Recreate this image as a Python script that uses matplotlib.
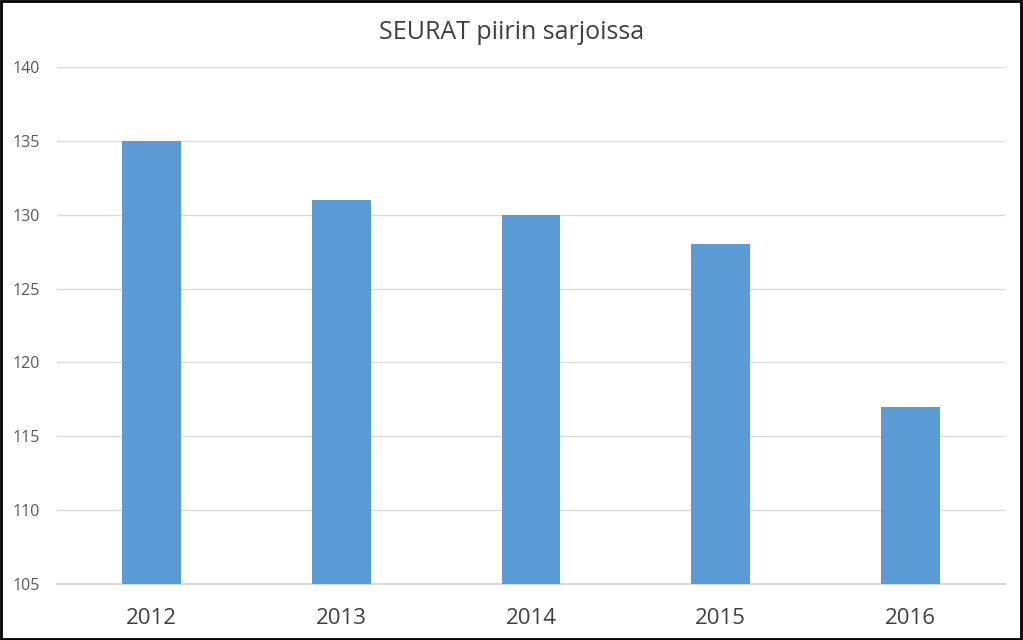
import matplotlib.pyplot as plt
from matplotlib.patches import Rectangle

years = ["2012", "2013", "2014", "2015", "2016"]
seurat = [135, 131, 130, 128, 117]
y_ticks = [105, 110, 115, 120, 125, 130, 135, 140]

plt.rcParams["font.family"] = ["Open Sans", "DejaVu Sans"]

fig = plt.figure(figsize=(10.23, 6.40), dpi=100)
ax = fig.add_axes([0.0557, 0.0875, 0.9267, 0.8078])

x = range(len(years))
ax.bar(x, [v - 105 for v in seurat], bottom=105, width=0.31, color="#5B9BD5", zorder=3)

ax.set_ylim(105, 140)
ax.set_xlim(-0.5, len(years) - 0.5)
ax.set_yticks(y_ticks)
ax.set_yticklabels([str(t) for t in y_ticks], fontsize=11.5, color="#595959")
ax.set_xticks(list(x))
ax.set_xticklabels(years, fontsize=16, color="#404040")
ax.tick_params(axis="both", length=0)
ax.tick_params(axis="y", pad=12)
ax.tick_params(axis="x", pad=17)
ax.yaxis.grid(True, color="#D9D9D9", linewidth=1, zorder=0)
ax.axhline(105, color="#D9D9D9", linewidth=1.5, zorder=2, clip_on=False)
for s in ax.spines.values():
    s.set_visible(False)

fig.text(0.5, 0.949, "SEURAT piirin sarjoissa", ha="center", va="center",
         fontsize=18, color="#404040")

# frame around the whole chart
fig.patches.append(Rectangle((0.001, 0.002), 0.997, 0.996, transform=fig.transFigure,
                             fill=False, edgecolor="black", linewidth=2))

fig.savefig("out.png", dpi=100)
